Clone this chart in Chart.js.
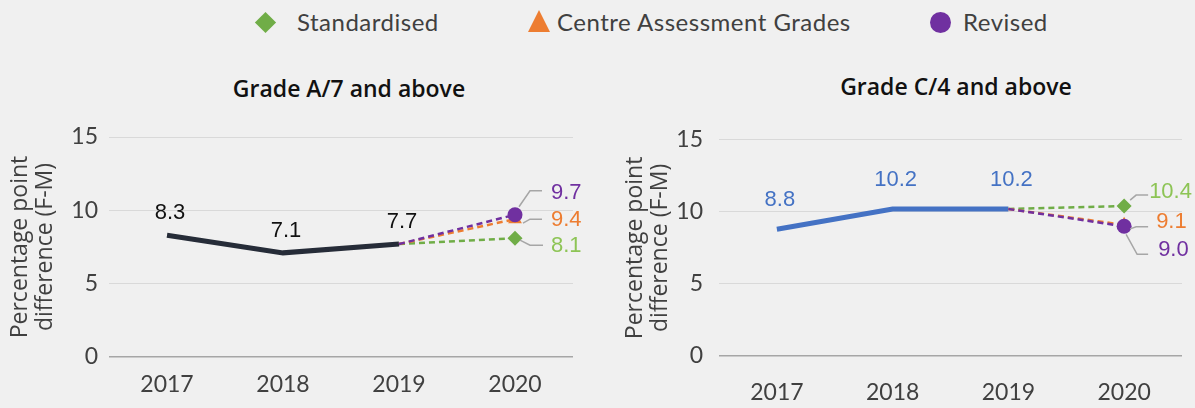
<!DOCTYPE html>
<html>
<head>
<meta charset="utf-8">
<script src="https://cdn.jsdelivr.net/npm/chart.js@4.4.1/dist/chart.umd.min.js"></script>
<style>
  body { margin: 0; background: #f0f0f0; width: 1195px; height: 408px; overflow: hidden; position: relative; font-family: Lato, sans-serif; }
  .item { position: absolute; top: 7px; height: 30px; line-height: 30px; font-size: 24px; letter-spacing: 0.5px; color: #404040; white-space: nowrap; }
  .mark { position: absolute; }
  .diamond { left: 258px; top: 15px; width: 15px; height: 15px; background: #70ad47; transform: rotate(45deg); }
  .triangle { left: 528px; top: 10px; width: 0; height: 0; border-left: 11.5px solid transparent; border-right: 11.5px solid transparent; border-bottom: 22px solid #ed7d31; }
  .circle { left: 930px; top: 12px; width: 21px; height: 21px; border-radius: 50%; background: #7030a0; }
  .title { position: absolute; font-family: "Open Sans", sans-serif; font-size: 23px; font-weight: 600; color: #111; white-space: nowrap; transform: translate(-50%, -50%); }
  canvas { position: absolute; top: 110px; }
</style>
</head>
<body>
  <div class="mark diamond"></div><div class="item" style="left:297px">Standardised</div>
  <div class="mark triangle"></div><div class="item" style="left:557px">Centre Assessment Grades</div>
  <div class="mark circle"></div><div class="item" style="left:963px">Revised</div>

  <div class="title" style="left:349px; top:88px">Grade A/7 and above</div>
  <div class="title" style="left:956px; top:86px">Grade C/4 and above</div>

  <canvas id="chartA" width="595" height="298" style="left:0"></canvas>
  <canvas id="chartC" width="595" height="298" style="left:600px"></canvas>

<script>
// Gender gap (F-M), percentage points
const years = ['2017', '2018', '2019', '2020'];
const yTicks = [0, 5, 10, 15];

// Grade A/7 and above
const gradeA_actual = [8.3, 7.1, 7.7, null];
const gradeA_standardised = [null, null, 7.7, 8.1];
const gradeA_cag = [null, null, 7.7, 9.4];
const gradeA_revised = [null, null, 7.7, 9.7];

// Grade C/4 and above
const gradeC_actual = [8.8, 10.2, 10.2, null];
const gradeC_standardised = [null, null, 10.2, 10.4];
const gradeC_cag = [null, null, 10.2, 9.1];
const gradeC_revised = [null, null, 10.2, 9.0];

const GREEN = '#70ad47', ORANGE = '#ed7d31', PURPLE = '#7030a0';

Chart.defaults.font.family = 'Lato, sans-serif';
Chart.defaults.color = '#404040';

// Value labels: above the points for the actual series,
// a callout with a leader line for the 2020 point of each scenario.
const valueLabels = {
  id: 'valueLabels',
  afterDatasetsDraw(chart) {
    const ctx = chart.ctx;
    ctx.save();
    ctx.font = '22px "Liberation Sans", Arial, sans-serif';
    ctx.textBaseline = 'middle';
    chart.data.datasets.forEach((ds, i) => {
      const meta = chart.getDatasetMeta(i);
      meta.data.forEach((pt, j) => {
        const v = ds.data[j];
        if (v == null) return;
        const text = v.toFixed(1);
        if (ds.callout) {
          if (j !== ds.data.length - 1) return;
          const c = ds.callout;
          ctx.strokeStyle = '#a6a6a6';
          ctx.lineWidth = 1.5;
          ctx.beginPath();
          c.leader.forEach(([dx, dy], k) => {
            if (k === 0) ctx.moveTo(pt.x + dx, pt.y + dy);
            else ctx.lineTo(pt.x + dx, pt.y + dy);
          });
          ctx.stroke();
          ctx.fillStyle = c.color;
          ctx.textAlign = 'left';
          ctx.fillText(text, pt.x + c.dx, pt.y + c.dy);
        } else if (ds.above) {
          ctx.fillStyle = ds.above.color;
          ctx.textAlign = 'center';
          ctx.fillText(text, pt.x + 3, pt.y - ds.above.lift);
        }
      });
    });
    ctx.restore();
  }
};

function scenario(data, color, style, radius, callout) {
  return {
    data: data,
    borderColor: color,
    backgroundColor: color,
    borderWidth: 2.5,
    borderDash: [6, 4],
    pointStyle: style,
    pointRadius: data.map((v, i) => i === data.length - 1 ? radius : 0),
    pointBorderWidth: 0,
    callout: callout
  };
}

function makeChart(id, s, lay) {
  return new Chart(document.getElementById(id), {
    type: 'line',
    data: {
      labels: years,
      datasets: [
        scenario(s.revised, PURPLE, 'circle', 7.5, { color: PURPLE, dx: lay.rev.dx, dy: lay.rev.dy, leader: lay.rev.leader }),
        scenario(s.cag, ORANGE, 'triangle', 8, { color: ORANGE, dx: lay.cag.dx, dy: lay.cag.dy, leader: lay.cag.leader }),
        scenario(s.standardised, GREEN, 'rectRot', 7.5, { color: '#8dc455', dx: lay.std.dx, dy: lay.std.dy, leader: lay.std.leader }),
        {
          data: s.actual,
          borderColor: s.lineColor,
          borderWidth: 5,
          pointRadius: 0,
          above: { color: s.labelColor, lift: lay.lift }
        }
      ]
    },
    options: {
      responsive: false,
      animation: false,
      layout: { padding: { top: 27, right: lay.padRight, left: 0, bottom: 0 } },
      plugins: { legend: { display: false }, tooltip: { enabled: false } },
      scales: {
        x: {
          offset: true,
          grid: { display: false, drawTicks: false },
          border: { display: false },
          ticks: { padding: lay.xPad, font: { size: 23 }, color: '#404040' },
          afterFit: sc => { sc.height = lay.xHeight; }
        },
        y: {
          min: 0,
          max: 15,
          afterBuildTicks: sc => { sc.ticks = yTicks.map(v => ({ value: v })); },
          grid: {
            drawTicks: false,
            color: c => c.tick.value === 0 ? '#a6a6a6' : '#d9d9d9',
            lineWidth: c => c.tick.value === 0 ? 1.5 : 1
          },
          border: { display: false },
          ticks: { padding: lay.yPad, font: { size: 23 }, color: '#404040' },
          title: {
            display: true,
            text: ['Percentage point', 'difference (F-M)'],
            font: { family: '"Open Sans", sans-serif', size: 23, lineHeight: 1.08 },
            color: '#404040',
            padding: { top: lay.titlePad, bottom: 0 }
          },
          afterFit: sc => { sc.width = lay.yWidth; }
        }
      }
    },
    plugins: [valueLabels]
  });
}

makeChart('chartA', {
  actual: gradeA_actual, standardised: gradeA_standardised, cag: gradeA_cag, revised: gradeA_revised,
  lineColor: '#262c38', labelColor: '#111111'
}, {
  padRight: 22, xHeight: 51, xPad: 14, yWidth: 109, yPad: 11, titlePad: 8, lift: 22,
  rev: { dx: 36, dy: -22, leader: [[4, -8], [15, -24], [27, -24]] },
  cag: { dx: 36, dy: 1, leader: [[8, 4], [15, 0], [27, 0]] },
  std: { dx: 36, dy: 8, leader: [[5, 2], [15, 7], [28, 7]] }
});

makeChart('chartC', {
  actual: gradeC_actual, standardised: gradeC_standardised, cag: gradeC_cag, revised: gradeC_revised,
  lineColor: '#4472c4', labelColor: '#4472c4'
}, {
  padRight: 13, xHeight: 52, xPad: 23, yWidth: 119, yPad: 16, titlePad: 23, lift: 29,
  std: { dx: 25, dy: -14, leader: [[6, -6], [12, -11], [24, -11]] },
  cag: { dx: 32, dy: -3, leader: [[6, 4], [12, 2], [24, 2]] },
  rev: { dx: 34, dy: 24, leader: [[2, 8], [13, 28], [24, 28]] }
});
</script>
</body>
</html>
